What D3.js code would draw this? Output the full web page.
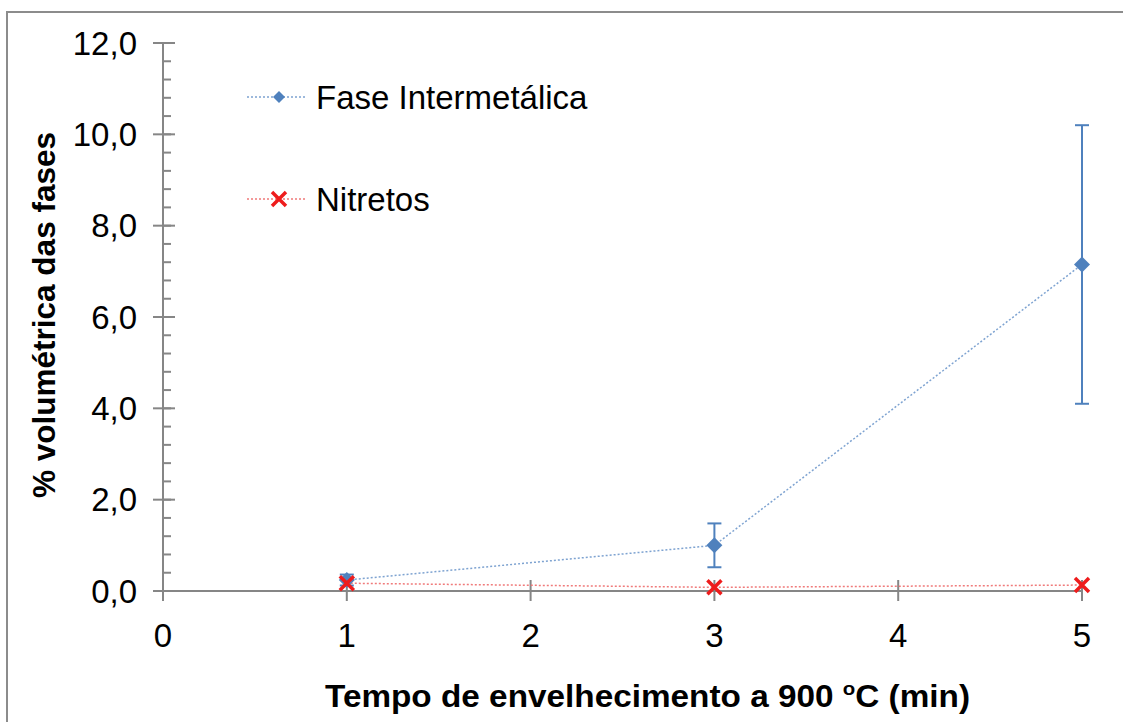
<!DOCTYPE html>
<html>
<head>
<meta charset="utf-8">
<script src="https://cdn.jsdelivr.net/npm/d3@7"></script>
<style>
    body { margin: 0; background: #fff; }
    text { font-family: "Liberation Sans", Arial, sans-serif; fill: #000; }
    .axis-gray { stroke: #868686; stroke-width: 2; }
    .tick-label { font-size: 33px; }
    .axis-label { font-size: 31px; font-weight: bold; }
    .legend-text { font-size: 33px; }
    .inter-line { fill: none; stroke: #7ea3d1; stroke-width: 1.5; stroke-dasharray: 2,2; }
    .nitr-line { fill: none; stroke: #f07a7a; stroke-width: 1.5; stroke-dasharray: 2,2; }
    .err-bar { stroke: #4f81bd; stroke-width: 2; }
</style>
</head>
<body>
<div id="chart"></div>
<script>
var tempos = [1, 3, 5]
var faseIntermetalica = [0.24, 1.0, 7.15]
var faseErro = [0.12, 0.48, 3.05]
var nitretos = [0.17, 0.08, 0.13]
var xTicks = [0, 1, 2, 3, 4, 5]
var yTicks = [0, 2, 4, 6, 8, 10, 12]
var yMinorTicks = d3.range(0, 12.01, 0.4)

var defaultWidth = 1123,
    defaultHeight = 722

var margin = { left: 163, right: 41, top: 43, bottom: 131 }
var width = defaultWidth - margin.left - margin.right,
    height = defaultHeight - margin.top - margin.bottom

var svg = d3.select("#chart")
    .append("svg")
        .attr("width", defaultWidth)
        .attr("height", defaultHeight)

// outer frame
svg.append("rect")
    .attr("x", 7)
    .attr("y", 12)
    .attr("width", defaultWidth)
    .attr("height", defaultHeight)
    .attr("fill", "#fff")
    .attr("stroke", "#8c8c8c")
    .attr("stroke-width", 2)

var chart = svg.append("g")
    .attr("transform", "translate(" + margin.left + "," + margin.top + ")")

var x = d3.scaleLinear()
    .domain([0, 5])
    .range([0, width])

var y = d3.scaleLinear()
    .domain([0, 12])
    .range([height, 0])

// y axis: line, major ticks crossing, minor ticks inside
chart.append("line")
    .attr("class", "axis-gray")
    .attr("x1", 0).attr("x2", 0)
    .attr("y1", y(12)).attr("y2", y(0) + 10)

chart.selectAll(".y-minor")
    .data(yMinorTicks)
    .enter()
    .append("line")
    .attr("class", "axis-gray y-minor")
    .attr("x1", 0).attr("x2", 8)
    .attr("y1", d => y(d)).attr("y2", d => y(d))

chart.selectAll(".y-major")
    .data(yTicks)
    .enter()
    .append("line")
    .attr("class", "axis-gray y-major")
    .attr("x1", -10).attr("x2", 12)
    .attr("y1", d => y(d)).attr("y2", d => y(d))

chart.selectAll(".y-label")
    .data(yTicks)
    .enter()
    .append("text")
    .attr("class", "tick-label y-label")
    .attr("x", -26)
    .attr("y", d => y(d))
    .attr("text-anchor", "end")
    .attr("dominant-baseline", "central")
    .text(d => d3.format(".1f")(d).replace(".", ","))

// x axis
chart.append("line")
    .attr("class", "axis-gray")
    .attr("x1", -10).attr("x2", width)
    .attr("y1", y(0)).attr("y2", y(0))

chart.selectAll(".x-major")
    .data(xTicks)
    .enter()
    .append("line")
    .attr("class", "axis-gray x-major")
    .attr("x1", d => x(d)).attr("x2", d => x(d))
    .attr("y1", y(0) - 11).attr("y2", y(0) + 10)

chart.selectAll(".x-label")
    .data(xTicks)
    .enter()
    .append("text")
    .attr("class", "tick-label x-label")
    .attr("x", d => x(d))
    .attr("y", y(0) + 56)
    .attr("text-anchor", "middle")
    .text(d => d)

// axis titles
chart.append("text")
    .attr("class", "axis-label")
    .attr("transform", "rotate(-90)")
    .attr("x", -(y(6)) + 2)
    .attr("y", -108)
    .attr("text-anchor", "middle")
    .attr("textLength", 366)
    .attr("lengthAdjust", "spacingAndGlyphs")
    .text("% volumétrica das fases")

var xTitle = chart.append("text")
    .attr("class", "axis-label")
    .attr("x", 325 - margin.left)
    .attr("y", 707 - margin.top)
    .attr("textLength", 645)
    .attr("lengthAdjust", "spacingAndGlyphs")

xTitle.append("tspan").text("Tempo de envelhecimento a 900 ")
xTitle.append("tspan").attr("font-size", "19px").attr("dy", -12).text("o")
xTitle.append("tspan").attr("dy", 12).text("C (min)")

// series lines
var interData = tempos.map((t, i) => ({ x: t, y: faseIntermetalica[i], e: faseErro[i] }))
var nitrData = tempos.map((t, i) => ({ x: t, y: nitretos[i] }))

var line = d3.line()
    .x(d => x(d.x))
    .y(d => y(d.y))

chart.append("path")
    .datum(nitrData)
    .attr("class", "nitr-line")
    .attr("d", line)

chart.append("path")
    .datum(interData)
    .attr("class", "inter-line")
    .attr("d", line)

// error bars
var errs = chart.selectAll(".err")
    .data(interData)
    .enter()
    .append("g")
    .attr("class", "err")

errs.append("line")
    .attr("class", "err-bar")
    .attr("x1", d => x(d.x)).attr("x2", d => x(d.x))
    .attr("y1", d => y(d.y + d.e)).attr("y2", d => y(d.y - d.e))

errs.append("line")
    .attr("class", "err-bar")
    .attr("x1", d => x(d.x) - 7).attr("x2", d => x(d.x) + 7)
    .attr("y1", d => y(d.y + d.e)).attr("y2", d => y(d.y + d.e))

errs.append("line")
    .attr("class", "err-bar")
    .attr("x1", d => x(d.x) - 7).attr("x2", d => x(d.x) + 7)
    .attr("y1", d => y(d.y - d.e)).attr("y2", d => y(d.y - d.e))

var diamond = "M0,-8L8,0L0,8L-8,0Z"
var cross = "M-7,-7L7,7M7,-7L-7,7"

chart.selectAll(".inter-dot")
    .data(interData)
    .enter()
    .append("path")
    .attr("class", "inter-dot")
    .attr("transform", d => "translate(" + x(d.x) + "," + y(d.y) + ")")
    .attr("d", diamond)
    .attr("fill", "#4f81bd")

chart.selectAll(".nitr-dot")
    .data(nitrData)
    .enter()
    .append("path")
    .attr("class", "nitr-dot")
    .attr("transform", d => "translate(" + x(d.x) + "," + y(d.y) + ")")
    .attr("d", cross)
    .attr("fill", "none")
    .attr("stroke", "#ee1c1c")
    .attr("stroke-width", 3.5)

// legend
var legend = svg.append("g")
    .attr("transform", "translate(247,0)")

var leg1 = legend.append("g").attr("transform", "translate(0,97)")
leg1.append("line")
    .attr("class", "inter-line")
    .attr("x1", 0).attr("x2", 58).attr("y1", 0).attr("y2", 0)
leg1.append("path")
    .attr("transform", "translate(32,0)")
    .attr("d", "M0,-6L6,0L0,6L-6,0Z")
    .attr("fill", "#4f81bd")
leg1.append("text")
    .attr("class", "legend-text")
    .attr("x", 69)
    .attr("y", 0)
    .attr("dominant-baseline", "central")
    .text("Fase Intermetálica")

var leg2 = legend.append("g").attr("transform", "translate(0,199)")
leg2.append("line")
    .attr("class", "nitr-line")
    .attr("x1", 0).attr("x2", 58).attr("y1", 0).attr("y2", 0)
leg2.append("path")
    .attr("transform", "translate(32,0)")
    .attr("d", cross)
    .attr("fill", "none")
    .attr("stroke", "#ee1c1c")
    .attr("stroke-width", 3.5)
leg2.append("text")
    .attr("class", "legend-text")
    .attr("x", 69)
    .attr("y", 0)
    .attr("dominant-baseline", "central")
    .text("Nitretos")
</script>
</body>
</html>
